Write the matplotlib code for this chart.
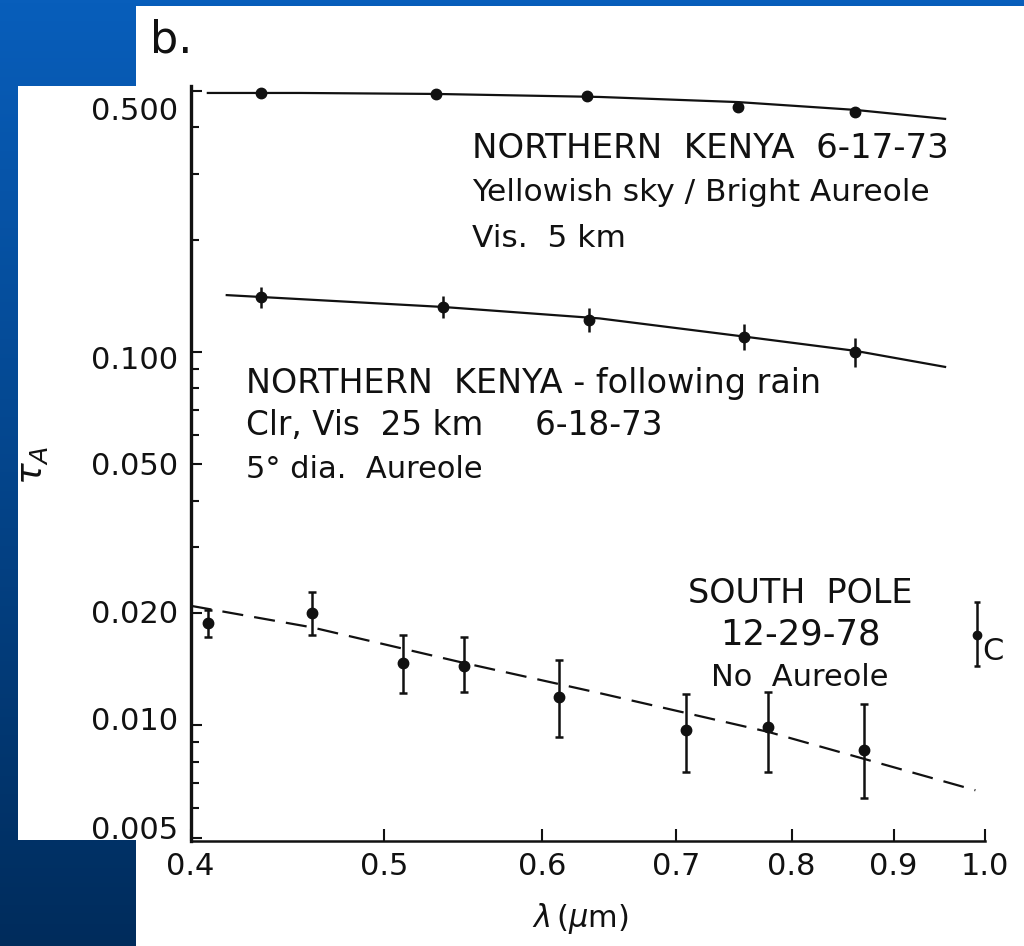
import numpy as np
import matplotlib
matplotlib.use("Agg")
import matplotlib.pyplot as plt
import matplotlib.transforms as mtransforms
from matplotlib.colors import LinearSegmentedColormap
from matplotlib.patches import Rectangle

# --- data (log-log axes) ---
# NORTHERN KENYA 6-17-73
lam_k1 = [0.434, 0.531, 0.632, 0.752, 0.861]
tau_k1 = [0.494, 0.491, 0.485, 0.453, 0.439]
fit_lam_k1 = [0.408, 0.454, 0.531, 0.641, 0.752, 0.861, 0.955]
fit_tau_k1 = [0.494, 0.494, 0.491, 0.482, 0.467, 0.445, 0.421]

# NORTHERN KENYA - following rain, 6-18-73
lam_k2 = [0.434, 0.535, 0.633, 0.757, 0.861]
tau_k2 = [0.140, 0.132, 0.122, 0.110, 0.100]
err_k2 = [0.009, 0.009, 0.009, 0.009, 0.009]
fit_lam_k2 = [0.417, 0.535, 0.641, 0.757, 0.861, 0.955]
fit_tau_k2 = [0.142, 0.132, 0.123, 0.110, 0.1007, 0.0912]

# SOUTH POLE 12-29-78
lam_sp = [0.408, 0.460, 0.511, 0.548, 0.612, 0.708, 0.779, 0.870]
tau_sp = [0.0188, 0.0200, 0.0147, 0.0144, 0.0119, 0.0097, 0.0099, 0.0086]
lo_sp = [0.0172, 0.0175, 0.0122, 0.0123, 0.0093, 0.0075, 0.0075, 0.0064]
hi_sp = [0.0204, 0.0228, 0.0175, 0.0172, 0.0150, 0.0121, 0.0123, 0.0114]
fit_lam_sp = [0.400, 0.460, 0.548, 0.641, 0.779, 0.989]
fit_tau_sp = [0.0209, 0.0183, 0.0147, 0.0122, 0.0096, 0.0067]

# point "C"
lam_c = [0.991]
tau_c = [0.0175]
lo_c = [0.0144]
hi_c = [0.0214]

xticks = [0.4, 0.5, 0.6, 0.7, 0.8, 0.9, 1.0]
xticklabels = ["0.4", "0.5", "0.6", "0.7", "0.8", "0.9", "1.0"]
yticks = [0.5, 0.1, 0.05, 0.02, 0.01, 0.005]
yticklabels = ["0.500", "0.100", "0.050", "0.020", "0.010", "0.005"]
yminor = [0.4, 0.3, 0.2, 0.09, 0.08, 0.07, 0.06, 0.04, 0.03,
          0.009, 0.008, 0.007, 0.006]

INK = "#111111"
plt.rcParams["font.family"] = ["DejaVu Sans"]

fig = plt.figure(figsize=(10.24, 9.46), dpi=100, facecolor="white")

# slide background: blue gradient with white paper on top
bg = fig.add_axes([0, 0, 1, 1])
blue = LinearSegmentedColormap.from_list("slide", ["#085ebb", "#002c5c"])
bg.imshow(np.linspace(0, 1, 256).reshape(-1, 1), cmap=blue, aspect="auto",
          extent=[0, 1, 0, 1])
bg.add_patch(Rectangle((0.1328, 0), 0.8672, 0.9937, color="white", lw=0))
bg.add_patch(Rectangle((0.0176, 0.1121), 0.1152, 0.797, color="white", lw=0))
bg.set_xlim(0, 1)
bg.set_ylim(0, 1)
bg.axis("off")

ax = fig.add_axes([0.1862, 0.1110, 0.7757, 0.7981])
ax.set_facecolor("none")
ax.set_xscale("log")
ax.set_yscale("log")
ax.set_xlim(0.4, 1.0)
ax.set_ylim(0.0049, 0.5157)

# fitted curves
ax.plot(fit_lam_k1, fit_tau_k1, color=INK, lw=1.6)
ax.plot(fit_lam_k2, fit_tau_k2, color=INK, lw=1.6)
ax.plot(fit_lam_sp, fit_tau_sp, color=INK, lw=1.6, dashes=(9.5, 5))

# measurements
ax.plot(lam_k1, tau_k1, "o", color=INK, ms=7.5)
ax.errorbar(lam_k2, tau_k2, yerr=err_k2, fmt="o", color=INK, ms=7.5,
            elinewidth=1.8, capsize=0)
sp_err = [np.array(tau_sp) - np.array(lo_sp), np.array(hi_sp) - np.array(tau_sp)]
ax.errorbar(lam_sp, tau_sp, yerr=sp_err, fmt="o", color=INK, ms=7.5,
            elinewidth=1.8, capsize=3, capthick=1.8)
c_err = [np.array(tau_c) - np.array(lo_c), np.array(hi_c) - np.array(tau_c)]
ax.errorbar(lam_c, tau_c, yerr=c_err, fmt="o", color=INK, ms=6,
            elinewidth=1.8, capsize=2, capthick=1.8, clip_on=False)

# axes styling
for s in ("top", "right"):
    ax.spines[s].set_visible(False)
ax.spines["left"].set_linewidth(2.4)
ax.spines["bottom"].set_linewidth(1.8)
ax.spines["left"].set_color(INK)
ax.spines["bottom"].set_color(INK)

ax.set_xticks(xticks, labels=xticklabels)
ax.xaxis.set_minor_locator(matplotlib.ticker.NullLocator())
ax.set_yticks(yticks, labels=yticklabels)
ax.set_yticks(yminor, minor=True)
ax.yaxis.set_minor_formatter(matplotlib.ticker.NullFormatter())
ax.tick_params(axis="x", which="major", direction="in", length=8.5, width=1.5,
               pad=8, labelsize=22, colors=INK)
ax.tick_params(axis="y", which="major", direction="in", length=8, width=1.5,
               pad=9, labelsize=22, colors=INK)
ax.tick_params(axis="y", which="minor", direction="in", length=6, width=1.5,
               colors=INK)

# hand lettered labels sit a little off their ticks
ylab_shift = [17, 6, -1, -1, -7, -10]
for lab, dy in zip(ax.get_yticklabels(), ylab_shift):
    lab.set_transform(lab.get_transform() +
                      mtransforms.ScaledTranslation(0, -dy / 100, fig.dpi_scale_trans))

ax.set_xlabel(r"$\lambda\,(\mu$m)", fontsize=22, color=INK)
ax.xaxis.set_label_coords(0.49, -0.102)
ax.xaxis.label.set_va("center")
ax.set_ylabel(r"$\tau_A$", fontsize=26, color=INK)
ax.yaxis.set_label_coords(-0.199, 0.498)
ax.yaxis.label.set_va("center")

# annotations (capital lettering runs wider than lower case in the original)
txt = dict(transform=ax.transAxes, color=INK, va="baseline")
ax.text(0.354, 0.9046, "NORTHERN  KENYA  6-17-73", fontsize=24.5, **txt)
ax.text(0.354, 0.8477, "Yellowish sky / Bright Aureole", fontsize=22.5, **txt)
ax.text(0.354, 0.7868, "Vis.  5 km", fontsize=22.5, **txt)

ax.text(0.0696, 0.5934, "NORTHERN  KENYA - following rain", fontsize=24, **txt)
ax.text(0.0696, 0.5377, "Clr, Vis  25 km     6-18-73", fontsize=23.5, **txt)
ax.text(0.0696, 0.4808, "5° dia.  Aureole", fontsize=22, **txt)

ax.text(0.767, 0.3152, "SOUTH  POLE", ha="center", fontsize=24, **txt)
ax.text(0.767, 0.2596, "12-29-78", ha="center", fontsize=25.5, **txt)
ax.text(0.767, 0.2053, "No  Aureole", ha="center", fontsize=22, **txt)

ax.text(0.9962, 0.2397, "C", fontsize=22, **txt)

fig.text(0.146, 0.944, "b.", fontsize=32, color=INK, va="baseline")

fig.savefig("out.png", dpi=100, facecolor=fig.get_facecolor())
